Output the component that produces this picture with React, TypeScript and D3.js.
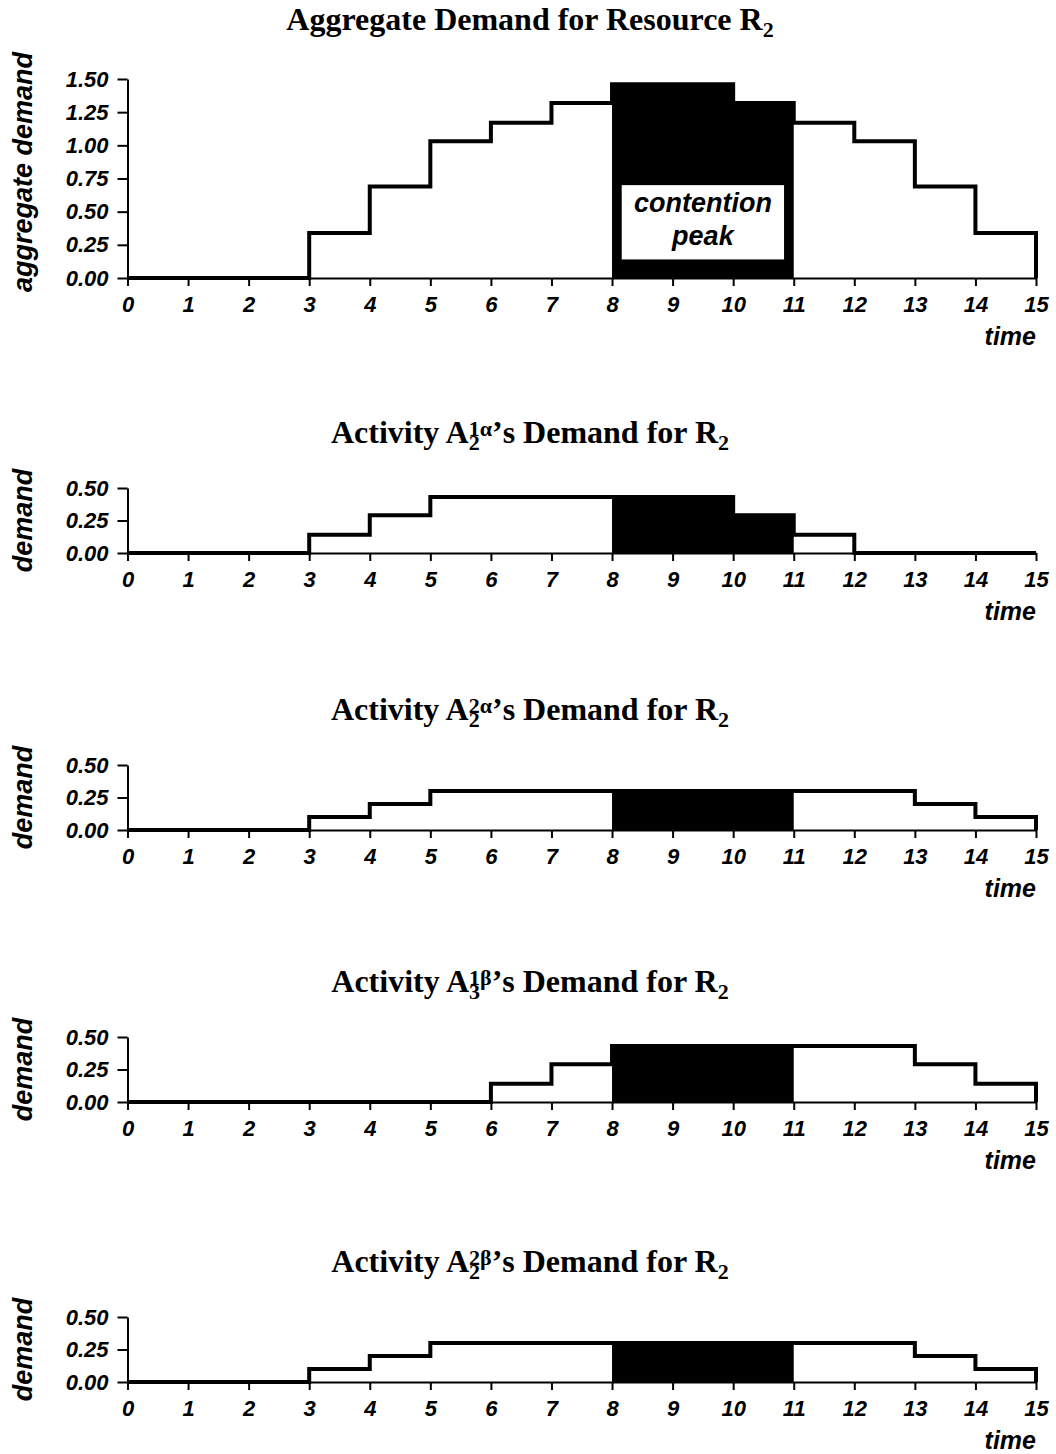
import React, { useEffect, useRef } from 'react';
import * as d3 from 'd3';

// time axis 0..15, values are the demand over each unit interval [t, t+1)
const timeLabels = [0, 1, 2, 3, 4, 5, 6, 7, 8, 9, 10, 11, 12, 13, 14, 15];
const aggregateTicks = [0, 0.25, 0.5, 0.75, 1, 1.25, 1.5];
const activityTicks = [0, 0.25, 0.5];

const aggregateDemand = [0, 0, 0, 0.34, 0.69, 1.03, 1.17, 1.32, 1.46, 1.46, 1.32, 1.17, 1.03, 0.69, 0.34];
const a2_1alpha = [0, 0, 0, 0.14, 0.29, 0.43, 0.43, 0.43, 0.43, 0.43, 0.29, 0.14, 0, 0, 0];
const a2_2alpha = [0, 0, 0, 0.1, 0.2, 0.3, 0.3, 0.3, 0.3, 0.3, 0.3, 0.3, 0.3, 0.2, 0.1];
const a3_1beta = [0, 0, 0, 0, 0, 0, 0.14, 0.29, 0.43, 0.43, 0.43, 0.43, 0.43, 0.29, 0.14];
const a2_2beta = [0, 0, 0, 0.1, 0.2, 0.3, 0.3, 0.3, 0.3, 0.3, 0.3, 0.3, 0.3, 0.2, 0.1];

// contention window
const peakStart = 8;
const peakEnd = 11;

const SANS = '"Liberation Sans", Arial, Helvetica, sans-serif';
const SERIF = '"Liberation Serif", "Times New Roman", Times, serif';

const panels = [
  { values: aggregateDemand, ticks: aggregateTicks, yMax: 1.5, yLabel: 'aggregate demand',
    title: { before: 'Aggregate Demand for Resource R', sub: null, sup: null, after: '' },
    titleY: 30, top: 79, zero: 278, labelY: 172, box: true },
  { values: a2_1alpha, ticks: activityTicks, yMax: 0.5, yLabel: 'demand',
    title: { before: 'Activity A', sub: '2', sup: '1\u03b1', after: '\u2019s Demand for R' },
    titleY: 443, top: 488, zero: 553 },
  { values: a2_2alpha, ticks: activityTicks, yMax: 0.5, yLabel: 'demand',
    title: { before: 'Activity A', sub: '2', sup: '2\u03b1', after: '\u2019s Demand for R' },
    titleY: 720, top: 765, zero: 830 },
  { values: a3_1beta, ticks: activityTicks, yMax: 0.5, yLabel: 'demand',
    title: { before: 'Activity A', sub: '3', sup: '1\u03b2', after: '\u2019s Demand for R' },
    titleY: 992, top: 1037, zero: 1102 },
  { values: a2_2beta, ticks: activityTicks, yMax: 0.5, yLabel: 'demand',
    title: { before: 'Activity A', sub: '2', sup: '2\u03b2', after: '\u2019s Demand for R' },
    titleY: 1272, top: 1317, zero: 1382 },
];

const App = () => {
  const ref = useRef(null);

  useEffect(() => {
    document.body.style.margin = '0';
    const svg = d3.select(ref.current);
    svg.selectAll('*').remove();

    const x = d3.scaleLinear().domain([0, 15]).range([127.5, 1036]);

    panels.forEach((p) => {
      const y = d3.scaleLinear().domain([0, p.yMax]).range([p.zero, p.top]);
      const g = svg.append('g');

      // title with sub/superscripts stacked after the A
      const t = g.append('text')
        .attr('x', 530)
        .attr('y', p.titleY)
        .attr('text-anchor', 'middle')
        .style('font-family', SERIF)
        .style('font-weight', 'bold')
        .style('font-size', '32px');
      t.append('tspan').text(p.title.before);
      if (p.title.sub) {
        t.append('tspan').attr('dy', 7).style('font-size', '22px').text(p.title.sub);
        t.append('tspan').attr('dx', -11).attr('dy', -14).style('font-size', '22px').text(p.title.sup);
        t.append('tspan').attr('dy', 7).text(p.title.after);
      }
      t.append('tspan').attr('dy', 7).style('font-size', '22px').text('2');

      // black fill in the contention window
      const v = p.values;
      const fillPts = d3.range(peakStart, peakEnd).map((i) => [i, v[i]]);
      fillPts.push([peakEnd, v[peakEnd - 1]]);
      const area = d3.area()
        .x((d) => x(d[0]))
        .y0(y(0))
        .y1((d) => y(d[1]))
        .curve(d3.curveStepAfter);
      g.append('path').attr('d', area(fillPts)).attr('fill', '#000');

      if (p.box) {
        g.append('rect')
          .attr('x', x(8.16))
          .attr('y', y(0.7))
          .attr('width', x(10.84) - x(8.16))
          .attr('height', y(0.14) - y(0.7))
          .attr('fill', '#fff');
        const cx = (x(8.16) + x(10.84)) / 2;
        ['contention', 'peak'].forEach((s, i) => {
          g.append('text')
            .attr('x', cx)
            .attr('y', y(0.7) + 27 + i * 33)
            .attr('text-anchor', 'middle')
            .style('font-family', SANS)
            .style('font-weight', 'bold')
            .style('font-style', 'italic')
            .style('font-size', '27px')
            .text(s);
        });
      }

      // axes
      const yAxis = g.append('g')
        .attr('transform', `translate(${x(0)},0)`)
        .call(d3.axisLeft(y).tickValues(p.ticks).tickFormat(d3.format('.2f')).tickSize(10).tickSizeOuter(0).tickPadding(9));
      const xAxis = g.append('g')
        .attr('transform', `translate(0,${p.zero})`)
        .call(d3.axisBottom(x).tickValues(timeLabels).tickFormat(d3.format('d')).tickSize(8).tickSizeOuter(0).tickPadding(10));
      [yAxis, xAxis].forEach((a) => {
        a.select('.domain').attr('stroke', '#000').attr('stroke-width', 2);
        a.selectAll('.tick line').attr('stroke', '#000').attr('stroke-width', 2);
        a.selectAll('.tick text')
          .attr('fill', '#000')
          .style('font-family', SANS)
          .style('font-weight', 'bold')
          .style('font-style', 'italic')
          .style('font-size', '22px');
      });

      // step line
      const pts = v.map((d, i) => [i, d]);
      pts.push([15, v[v.length - 1]]);
      pts.push([15, 0]);
      const line = d3.line()
        .x((d) => x(d[0]))
        .y((d) => y(d[1]))
        .curve(d3.curveStepAfter);
      g.append('path')
        .attr('d', line(pts))
        .attr('fill', 'none')
        .attr('stroke', '#000')
        .attr('stroke-width', 4)
        .attr('stroke-linejoin', 'miter');

      // axis titles
      g.append('text')
        .attr('transform', `translate(32,${p.labelY ?? (p.top + p.zero) / 2}) rotate(-90)`)
        .attr('text-anchor', 'middle')
        .style('font-family', SANS)
        .style('font-weight', 'bold')
        .style('font-style', 'italic')
        .style('font-size', '27px')
        .text(p.yLabel);

      g.append('text')
        .attr('x', 1036)
        .attr('y', p.zero + 67)
        .attr('text-anchor', 'end')
        .style('font-family', SANS)
        .style('font-weight', 'bold')
        .style('font-style', 'italic')
        .style('font-size', '25px')
        .text('time');
    });
  }, []);

  return <svg ref={ref} width={1056} height={1454} style={{ display: 'block', background: '#fff' }} />;
};

export default App;
